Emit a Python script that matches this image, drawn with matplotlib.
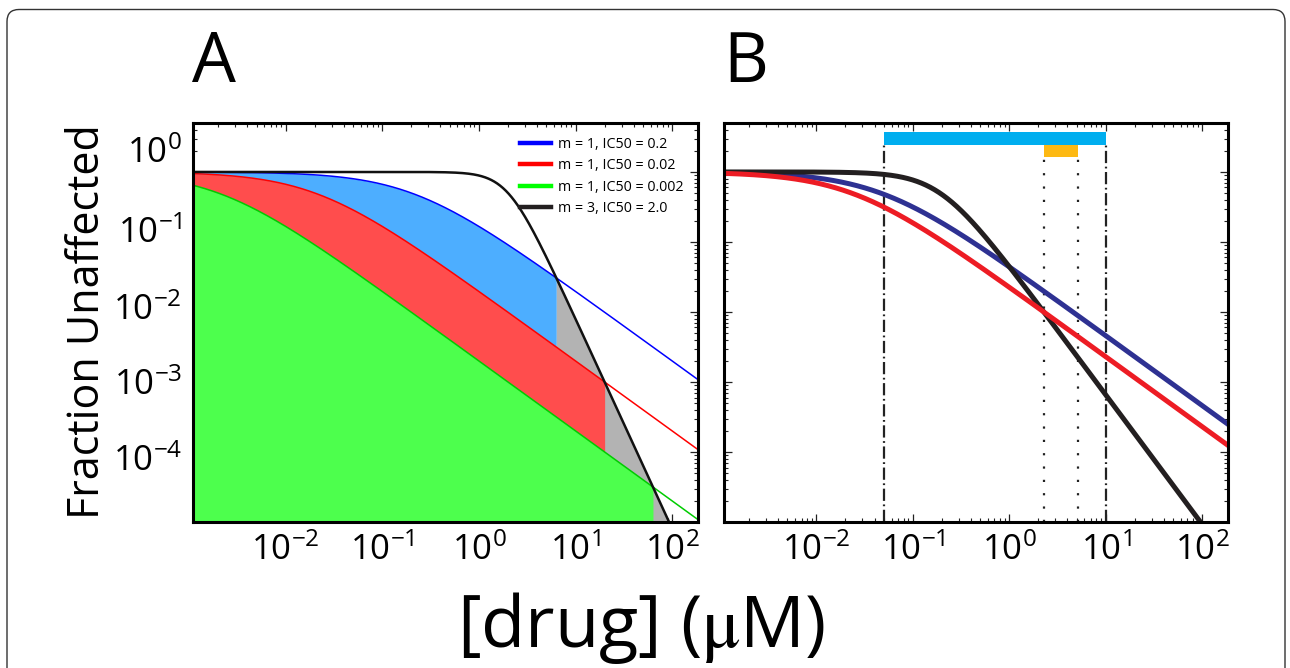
import numpy as np
import matplotlib
matplotlib.use('Agg')
import matplotlib.pyplot as plt
from matplotlib.patches import FancyBboxPatch
from matplotlib.lines import Line2D
from matplotlib.transforms import IdentityTransform
from matplotlib.ticker import LogLocator, NullFormatter, FixedLocator, FixedFormatter

plt.rcParams['font.family'] = ['Open Sans', 'DejaVu Sans']
plt.rcParams['mathtext.fontset'] = 'custom'
plt.rcParams['mathtext.rm'] = 'Open Sans'
plt.rcParams['mathtext.it'] = 'Open Sans:italic'
plt.rcParams['mathtext.bf'] = 'Open Sans:bold'

# ---------------- data ----------------
dose_limits = [1.1e-3, 185.0]
fraction_limits = [1e-5, 5.0]

# Panel A: median-effect curves (parameters from the legend)
a_labels = ['m = 1, IC50 = 0.2', 'm = 1, IC50 = 0.02', 'm = 1, IC50 = 0.002', 'm = 3, IC50 = 2.0']
a_hill = [1.0, 1.0, 1.0, 3.0]
a_ic50 = [0.2, 0.02, 0.002, 2.0]

# Panel B: three curves (parameters)
b_names = ['blue', 'red', 'black']
b_hill = [1.0, 1.0, 1.85]
b_ic50 = [0.046, 0.023, 0.19]

# Panel B: concentration windows (bars) and their vertical extents
b_wide_window = [0.05, 10.0]
b_wide_band = [2.43, 3.73]
b_narrow_window = [2.3, 5.2]
b_narrow_band = [1.64, 2.43]

x_tick_values = [1e-2, 1e-1, 1e0, 1e1, 1e2]
x_tick_labels = ['$10^{-2}$', '$10^{-1}$', '$10^{0}$', '$10^{1}$', '$10^{2}$']
y_tick_labels = ['$10^{0}$', '$10^{-1}$', '$10^{-2}$', '$10^{-3}$', '$10^{-4}$']

# ---------------- helpers ----------------
def unaffected(d, m, ic):
    return 1.0 / (1.0 + (d / ic) ** m)

def crossing(m1, ic1, m2, ic2):
    return (ic2 ** m2 / ic1 ** m1) ** (1.0 / (m2 - m1))

W, H = 1290, 668
fig = plt.figure(figsize=(W / 100, H / 100), dpi=100)

def px_axes(l, t, r, b):
    return fig.add_axes([l / W, 1 - b / H, (r - l) / W, (b - t) / H])

axA = px_axes(193, 123, 698, 522)
axB = px_axes(724, 123, 1228, 522)

def style_axes(ax):
    ax.set_xscale('log')
    ax.set_yscale('log')
    ax.set_xlim(*dose_limits)
    ax.set_ylim(*fraction_limits)
    ax.set_axisbelow(True)
    for s in ax.spines.values():
        s.set_linewidth(2.2)
        s.set_zorder(5)
    ax.xaxis.set_major_locator(FixedLocator(x_tick_values))
    ax.xaxis.set_major_formatter(FixedFormatter(x_tick_labels))
    ax.xaxis.set_minor_locator(LogLocator(base=10, subs=np.arange(2, 10), numticks=20))
    ax.xaxis.set_minor_formatter(NullFormatter())
    ax.yaxis.set_major_locator(LogLocator(base=10, numticks=20))
    ax.yaxis.set_minor_locator(LogLocator(base=10, subs=np.arange(2, 10), numticks=20))
    ax.yaxis.set_minor_formatter(NullFormatter())
    ax.tick_params(which='both', direction='in', top=True, right=True, color='#222222')
    ax.tick_params(which='major', length=6, width=0.9, labelsize=25, pad=8, labelleft=False)
    ax.tick_params(which='minor', length=3, width=0.8)

for ax in (axA, axB):
    style_axes(ax)

lo, hi = np.log10(dose_limits[0]) - 0.2, np.log10(dose_limits[1]) + 0.2
floor = 1e-7

# ---------------- Panel A ----------------
fill_colors = ['#4DAEFF', '#FF4D4D', '#4DFF4D']
line_colors = ['#0000FF', '#FF0000', '#00CC00']
mb, icb = a_hill[3], a_ic50[3]
for i in range(3):
    xc = crossing(a_hill[i], a_ic50[i], mb, icb)
    d = np.logspace(lo, np.log10(xc), 600)
    axA.fill_between(d, floor, unaffected(d, a_hill[i], a_ic50[i]),
                     color=fill_colors[i], lw=0, zorder=1 + 0.1 * i)
    if i == 0:
        dg = np.logspace(np.log10(xc), hi, 600)
        axA.fill_between(dg, floor, unaffected(dg, mb, icb), color='#B3B3B3', lw=0, zorder=1.05)
dd = np.logspace(lo, hi, 1500)
for i in range(3):
    axA.plot(dd, unaffected(dd, a_hill[i], a_ic50[i]), color=line_colors[i], lw=1.1, zorder=2)
axA.plot(dd, unaffected(dd, mb, icb), color='#111111', lw=1.8, zorder=2.2)

leg_colors = ['#0000FF', '#FF0000', '#00FF00', '#231F20']
handles = [Line2D([], [], color=c, lw=3.2) for c in leg_colors]
axA.legend(handles, a_labels, loc='upper right', frameon=False, fontsize=10.3,
           handlelength=2.2, handletextpad=0.5, labelspacing=0.45,
           bbox_to_anchor=(0.992, 0.99), borderaxespad=0.3)

# y tick labels of panel A (placed where the reference shows them)
y_label_px = [150, 230, 307, 382, 458]
for lab, yp in zip(y_tick_labels, y_label_px):
    fig.text(182 / W, 1 - yp / H, lab, ha='right', va='center_baseline', fontsize=25)

# ---------------- Panel B ----------------
b_colors = ['#2E3192', '#ED1C24', '#231F20']
b_z = [2, 2.4, 2.2]
for i in range(3):
    axB.plot(dd, unaffected(dd, b_hill[i], b_ic50[i]), color=b_colors[i], lw=3.6,
             zorder=b_z[i], solid_capstyle='butt')

axB.fill_between(b_wide_window, b_wide_band[0], b_wide_band[1], color='#00AEEF', lw=0, zorder=3)
axB.fill_between(b_narrow_window, b_narrow_band[0], b_narrow_band[1], color='#FDB913', lw=0, zorder=3)
for xv in b_wide_window:
    axB.plot([xv, xv], [fraction_limits[0], b_wide_band[0]], color='#222222', lw=1.6,
             ls=(0, (5.5, 1.6, 0.8, 1.6)), zorder=1.5)
for xv in b_narrow_window:
    axB.plot([xv, xv], [fraction_limits[0], b_narrow_band[0]], color='#222222', lw=1.6,
             ls=(0, (1.0, 5.0)), zorder=1.5)

# ---------------- figure text ----------------
fig.text(214 / W, 1 - 82 / H, 'A', fontsize=50, ha='center', va='baseline')
fig.text(746 / W, 1 - 82 / H, 'B', fontsize=50, ha='center', va='baseline')
fig.text(88 / W, 1 - 322 / H, 'Fraction Unaffected', fontsize=31, rotation=90,
         ha='center', va='center')
fig.text(641 / W, 1 - 628 / H, r'[drug] ($\mathrm{\mu}$M)', fontsize=52, ha='center', va='center',
         math_fontfamily='stix')

frame = FancyBboxPatch((7, -40), 1278, 668 - 9.5 + 40, boxstyle='round,pad=0,rounding_size=12',
                       transform=IdentityTransform(), fill=False, ec='#333333', lw=1.0)
fig.add_artist(frame)

fig.savefig('out.png', dpi=100)
